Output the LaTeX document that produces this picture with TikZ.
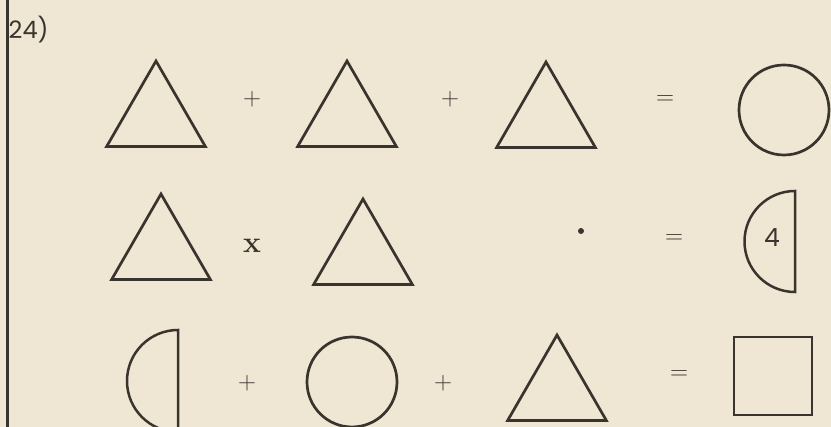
\documentclass[tikz,border=0pt]{standalone}
\usepackage{fontspec}
\newfontfamily\labelfont{Poppins}
\usepackage{xcolor}
\usetikzlibrary{shapes.geometric, positioning}
\definecolor{paper}{RGB}{239,231,211}
\definecolor{ink}{RGB}{58,52,46}

\begin{document}
\begin{tikzpicture}[%
    x=1pt, y=-1pt,      % one unit is one pixel, y runs down
    tri/.style={regular polygon, regular polygon sides=3, draw=ink,
        line width=2.7pt, minimum size=114pt, inner sep=0pt},
    circ/.style={circle, draw=ink, line width=2.7pt,
        minimum size=90pt, inner sep=0pt},
    sq/.style={rectangle, draw=ink, line width=2.7pt,
        minimum size=78pt, inner sep=0pt},
    half/.style={draw=ink, line width=2.5pt},
    op/.style={text=ink, font=\fontsize{25}{25}\selectfont, inner sep=0pt},
    lbl/.style={text=ink, font=\labelfont\fontsize{24}{24}\selectfont, inner sep=0pt}
]

    % ==========================================
    % 0. Page - paper, margin rule, number
    % ==========================================
    \clip (0,0) rectangle (831,427);
    \fill[paper] (0,0) rectangle (831,427);
    \coordinate (top) at (7.5,0);
    \coordinate (bot) at (7.5,427);
    \draw[ink, line width=2.5pt] (top) -- (bot);
    \node[lbl, anchor=west] (num) at (8.5,30) {24)};

    % ==========================================
    % 1. Row one - three triangles make a circle
    % ==========================================
    \node[tri] (t1) at (156,118) {};
    \node[op] (p1) at (252,99) {+};
    \node[tri] (t2) at (347,118) {};
    \node[op] (p2) at (450,99) {+};
    \node[tri] (t3) at (546,119) {};
    \node[op] (e1) at (665,100) {=};
    \node[circ] (c1) at (784,110) {};

    % ==========================================
    % 2. Row two - triangle times triangle
    % ==========================================
    \node[tri] (t4) at (161,251) {};
    \node[op, font=\bfseries\fontsize{30}{30}\selectfont] (m1) at (252,246) {x};
    \node[tri] (t5) at (363,256) {};
    \fill[ink] (581,231) circle (3) coordinate (dot);
    \node[op] (e2) at (674,239) {=};
    % half circle, flat side on the right
    \coordinate (h1) at (795,191);
    \draw[half] (h1) arc[start angle=270, end angle=90, radius=50.5] -- cycle;
    \node[lbl, font=\labelfont\fontsize{25}{25}\selectfont] (four) at (772,238) {4};

    % ==========================================
    % 3. Row three - half circle, circle, triangle
    % ==========================================
    \coordinate (h2) at (178,330);
    \draw[half] (h2) arc[start angle=270, end angle=90, radius=51] -- cycle;
    \node[op] (p3) at (247,383) {+};
    \node[circ] (c2) at (352,382) {};
    \node[op] (p4) at (443,383) {+};
    \node[tri] (t6) at (557,392) {};
    \node[op] (e3) at (679,375) {=};
    \node[sq] (s1) at (773,376) {};

\end{tikzpicture}
\end{document}
